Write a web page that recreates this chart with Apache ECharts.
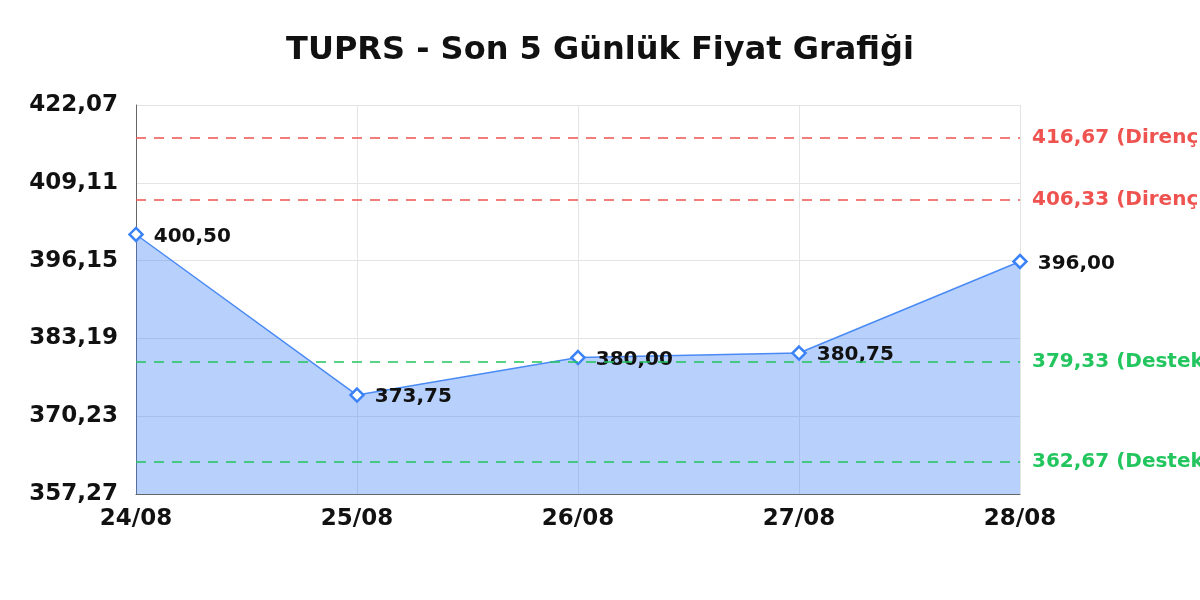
<!DOCTYPE html>
<html lang="tr">
<head>
    <meta charset="UTF-8">
    <title>TUPRS</title>
    <style>
        html, body { margin: 0; width: 100%; height: 100%; background: #fff; }
        #main { width: 1200px; height: 600px; }
    </style>
</head>
<body>
    <div id="main"></div>
    <script src="https://cdn.jsdelivr.net/npm/echarts@6/dist/echarts.min.js"></script>
    <script>
        // veriler
        var days = ['24/08', '25/08', '26/08', '27/08', '28/08'];
        var prices = [400.50, 373.75, 380.00, 380.75, 396.00];
        var resistance = [416.67, 406.33];
        var support = [379.33, 362.67];
        var yMin = 357.27, yMax = 422.07, yStep = 12.96;

        function tr(v) { return v.toFixed(2).replace('.', ','); }

        var lines = [];
        resistance.forEach(function (v) {
            lines.push({ yAxis: v, name: 'Direnç', lineStyle: { color: '#ef5350' }, label: { color: '#ef5350' } });
        });
        support.forEach(function (v) {
            lines.push({ yAxis: v, name: 'Destek', lineStyle: { color: '#22c55e' }, label: { color: '#22c55e' } });
        });

        var chart = echarts.init(document.getElementById('main'));
        chart.setOption({
            backgroundColor: '#fff',
            textStyle: { fontFamily: 'DejaVu Sans' },
            title: {
                text: 'TUPRS - Son 5 Günlük Fiyat Grafiği',
                left: 'center',
                top: 30,
                textStyle: { fontSize: 32, fontWeight: 'bold', color: '#111', fontFamily: 'DejaVu Sans' }
            },
            grid: { left: 136, right: 180, top: 105, bottom: 106 },
            xAxis: {
                type: 'category',
                data: days,
                boundaryGap: false,
                axisLine: { lineStyle: { color: '#666' } },
                axisTick: { show: false },
                axisLabel: { fontSize: 23, fontWeight: 'bold', color: '#111', margin: 14 },
                splitLine: { show: true, lineStyle: { color: '#e4e4e4' } }
            },
            yAxis: {
                type: 'value',
                min: yMin,
                max: yMax,
                interval: yStep,
                axisLine: { show: true, lineStyle: { color: '#666' } },
                axisTick: { show: false },
                axisLabel: { fontSize: 23, fontWeight: 'bold', color: '#111', margin: 18, formatter: tr },
                splitLine: { lineStyle: { color: '#e4e4e4' } }
            },
            series: [{
                type: 'line',
                data: prices,
                symbol: 'diamond',
                symbolSize: 13,
                itemStyle: { color: '#fff', borderColor: '#3b82f6', borderWidth: 2.5 },
                lineStyle: { color: '#4a8af4', width: 1.5 },
                areaStyle: { color: '#3b82f6', opacity: 0.37 },
                label: {
                    show: true,
                    position: 'right',
                    distance: 10,
                    offset: [0, 2],
                    fontSize: 20,
                    fontWeight: 'bold',
                    color: '#111',
                    formatter: function (p) { return tr(p.value); }
                },
                markLine: {
                    silent: true,
                    symbol: 'none',
                    lineStyle: { type: [10, 8], width: 1.5 },
                    label: {
                        position: 'end',
                        distance: 12,
                        fontSize: 20,
                        fontWeight: 'bold',
                        formatter: function (p) { return tr(p.value) + ' (' + p.name + ')'; }
                    },
                    data: lines
                }
            }]
        });
    </script>
</body>
</html>
